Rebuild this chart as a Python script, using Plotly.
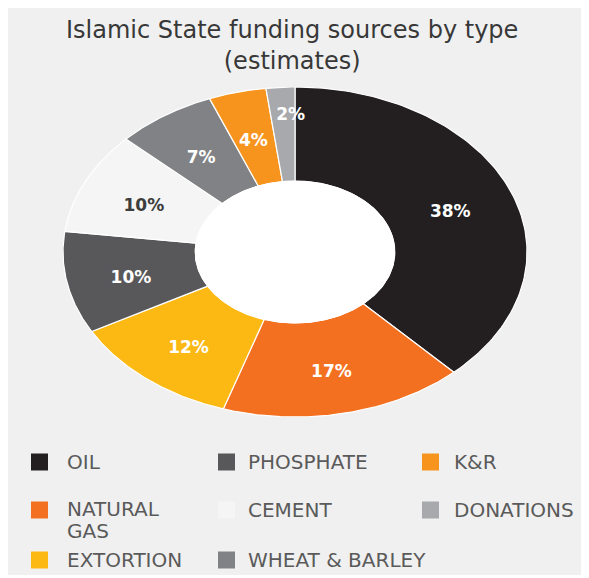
import numpy as np
import plotly.graph_objects as go

# ---- data ----
labels = ["OIL", "NATURAL GAS", "EXTORTION", "PHOSPHATE", "CEMENT",
          "WHEAT & BARLEY", "K&R", "DONATIONS"]
shares = [38, 17, 12, 10, 10, 7, 4, 2]
title_text = "Islamic State funding sources by type<br>(estimates)"
legend_rows = [["OIL", "PHOSPHATE", "K&R"],
               ["NATURAL GAS", "CEMENT", "DONATIONS"],
               ["EXTORTION", "WHEAT & BARLEY"]]

# ---- style ----
colors = {
    "OIL": "#231f20", "NATURAL GAS": "#f37021", "EXTORTION": "#fdb913",
    "PHOSPHATE": "#58585a", "CEMENT": "#f5f5f5", "WHEAT & BARLEY": "#808285",
    "K&R": "#f7941d", "DONATIONS": "#a7a9ac",
}
label_color = {"CEMENT": "#3c3c3c"}
label_r = {"DONATIONS": 0.86}
label_dx = {"DONATIONS": 0.035}
legend_wrap = {"NATURAL GAS": ["NATURAL", "GAS"]}
OFF = 8                      # browser body margin
PW, PH = 589, 578            # page size
W, H = PW - OFF, PH - OFF
# plot area in page pixels
PL, PR, PT, PB = 63, 527, 87, 417
L, R, T, B = PL - OFF, W - (PR - OFF), PT - OFF, H - (PB - OFF)
INNER = 0.43
BG = "#f0f0f0"

def px_x(p):
    return (p - PL) / (PR - PL)

def px_y(p):
    return (PB - p) / (PB - PT)

fig = go.Figure()

total = float(sum(shares))
cum = np.concatenate([[0], np.cumsum(shares)]) / total * 2 * np.pi
for i, lab in enumerate(labels):
    a0, a1 = cum[i], cum[i + 1]
    t = np.linspace(a0, a1, 120)
    xs = np.concatenate([np.sin(t), INNER * np.sin(t[::-1]), [np.sin(a0)]])
    ys = np.concatenate([np.cos(t), INNER * np.cos(t[::-1]), [np.cos(a0)]])
    fig.add_trace(go.Scatter(x=xs, y=ys, mode="lines", fill="toself",
                             fillcolor=colors[lab],
                             line=dict(color="white", width=1.2),
                             hoverinfo="skip", showlegend=False))

# hole
th = np.linspace(0, 2 * np.pi, 240)
fig.add_trace(go.Scatter(x=INNER * np.sin(th), y=INNER * np.cos(th), mode="lines",
                         fill="toself", fillcolor="white",
                         line=dict(color="white", width=1),
                         hoverinfo="skip", showlegend=False))

# percentage labels
for i, lab in enumerate(labels):
    mid = (cum[i] + cum[i + 1]) / 2
    r = label_r.get(lab, 0.72)
    fig.add_trace(go.Scatter(
        x=[r * np.sin(mid) + label_dx.get(lab, 0)], y=[r * np.cos(mid) - 0.03],
        mode="text", text=[f"{shares[i]}%"], cliponaxis=False,
        textfont=dict(family="DejaVu Sans", size=17, weight="bold",
                      color=label_color.get(lab, "white")),
        hoverinfo="skip", showlegend=False))

shapes = [dict(type="rect", xref="paper", yref="paper",
               x0=px_x(7), x1=px_x(584), y0=px_y(575), y1=px_y(5),
               fillcolor=BG, line=dict(width=0), layer="below")]
annotations = [dict(text=title_text, xref="paper", yref="paper",
                    x=px_x(292), y=px_y(46), xanchor="center", yanchor="middle",
                    showarrow=False,
                    font=dict(family="DejaVu Sans", size=24, color="#383838"))]

col_sq = [31, 218, 422]
col_tx = [65, 246, 452]
row_y = [462, 510, 560]
SQ = 17
LINE = 22
for ri, row in enumerate(legend_rows):
    for ci, lab in enumerate(row):
        cy = row_y[ri]
        shapes.append(dict(type="rect", xref="paper", yref="paper",
                           x0=px_x(col_sq[ci]), x1=px_x(col_sq[ci] + SQ),
                           y0=px_y(cy + SQ / 2), y1=px_y(cy - SQ / 2),
                           fillcolor=colors[lab], line=dict(width=0)))
        lines = legend_wrap.get(lab, [lab])
        y0 = cy - (1.5 if len(lines) > 1 else 0)
        for li, txt in enumerate(lines):
            annotations.append(dict(text=txt, xref="paper", yref="paper",
                                    x=px_x(col_tx[ci]), y=px_y(y0 + li * LINE),
                                    xanchor="left", yanchor="middle", align="left",
                                    showarrow=False,
                                    font=dict(family="DejaVu Sans", size=20,
                                              color="#5a5a5a")))

fig.update_layout(
    width=W, height=H, margin=dict(l=L, r=R, t=T, b=B),
    paper_bgcolor="white", plot_bgcolor="rgba(0,0,0,0)",
    xaxis=dict(range=[-1, 1], visible=False, fixedrange=True),
    yaxis=dict(range=[-1, 1], visible=False, fixedrange=True),
    shapes=shapes, annotations=annotations, showlegend=False,
)

fig.write_html("out.html")
